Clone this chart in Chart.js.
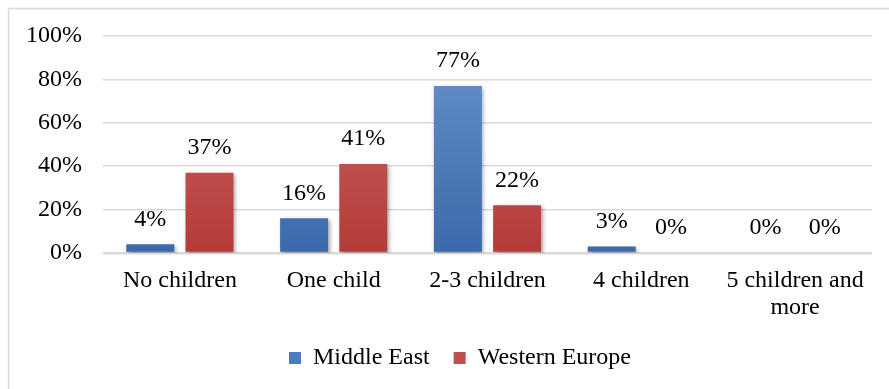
<!DOCTYPE html>
<html>
<head>
<meta charset="utf-8">
<script src="https://cdn.jsdelivr.net/npm/chart.js@4/dist/chart.umd.min.js"></script>
<style>
  html, body { margin: 0; padding: 0; background: #fff; }
  #wrap { width: 889px; height: 389px; position: relative; }
</style>
</head>
<body>
<div id="wrap"><canvas id="c" width="889" height="389"></canvas></div>
<script>
// Number of children: share of respondents by region
const categories = ['No children', 'One child', '2-3 children', '4 children', ['5 children and', 'more']];
const middleEast = [4, 16, 77, 3, 0];
const westernEurope = [37, 41, 22, 0, 0];
const yTicks = [0, 20, 40, 60, 80, 100];

const FONT = '"Liberation Serif", "Times New Roman", serif';
const FONT_SIZE = 24;

function vGradient(ctx, top, bottom) {
  const chart = ctx.chart;
  const area = chart.chartArea;
  if (!area) return bottom;
  const g = chart.ctx.createLinearGradient(0, area.top, 0, area.bottom);
  g.addColorStop(0, top);
  g.addColorStop(1, bottom);
  return g;
}

// Outer frame of the chart
const framePlugin = {
  id: 'frame',
  beforeDraw(chart) {
    const c = chart.ctx;
    c.save();
    c.fillStyle = '#fff';
    c.fillRect(0, 0, chart.width, chart.height);
    c.strokeStyle = '#d9d9d9';
    c.lineWidth = 1.5;
    c.strokeRect(8.5, 8.5, chart.width + 20, chart.height + 20);
    c.restore();
  }
};

// Nudge the legend a little to the right
const legendShift = {
  id: 'legendShift',
  afterLayout(chart) {
    if (chart.legend) {
      chart.legend.left += 24;
      chart.legend.right += 24;
    }
  }
};

// Soft shadow under the bars
const shadowPlugin = {
  id: 'barShadow',
  beforeDatasetsDraw(chart) {
    const c = chart.ctx;
    c.save();
    c.shadowColor = 'rgba(0,0,0,0.35)';
    c.shadowBlur = 4;
    c.shadowOffsetX = 1.5;
    c.shadowOffsetY = 2;
  },
  afterDatasetsDraw(chart) {
    chart.ctx.restore();
  }
};

// Percentage labels above each bar
const valueLabels = {
  id: 'valueLabels',
  afterDatasetsDraw(chart) {
    const c = chart.ctx;
    c.save();
    c.font = FONT_SIZE + 'px ' + FONT;
    c.fillStyle = '#000';
    c.textAlign = 'center';
    c.textBaseline = 'middle';
    chart.data.datasets.forEach((ds, di) => {
      const meta = chart.getDatasetMeta(di);
      meta.data.forEach((bar, i) => {
        c.fillText(ds.data[i] + '%', bar.x, bar.y - 25);
      });
    });
    c.restore();
  }
};

new Chart(document.getElementById('c'), {
  type: 'bar',
  data: {
    labels: categories,
    datasets: [
      {
        label: 'Middle East',
        data: middleEast,
        backgroundColor: ctx => vGradient(ctx, '#6893cd', '#3b6aab'),
        legendColor: '#4a7cc0',
        categoryPercentage: 0.77,
        barPercentage: 0.81
      },
      {
        label: 'Western Europe',
        data: westernEurope,
        backgroundColor: ctx => vGradient(ctx, '#cb6b69', '#b43b39'),
        legendColor: '#c0504d',
        categoryPercentage: 0.77,
        barPercentage: 0.81
      }
    ]
  },
  options: {
    responsive: false,
    animation: false,
    layout: { padding: { top: 36, right: 17, left: 0, bottom: 9 } },
    scales: {
      x: {
        grid: { display: false, drawTicks: false },
        border: { display: false },
        ticks: {
          color: '#000',
          font: { family: FONT, size: FONT_SIZE, lineHeight: 1.13 },
          padding: 14,
          maxRotation: 0,
          autoSkip: false
        },
        afterFit(scale) { scale.height = 69; }
      },
      y: {
        min: 0,
        max: 100,
        afterBuildTicks(scale) { scale.ticks = yTicks.map(v => ({ value: v })); },
        grid: {
          color: '#d9d9d9',
          lineWidth: ctx => (ctx.tick && ctx.tick.value === 0 ? 2.5 : 1.5),
          drawTicks: false
        },
        border: { display: false },
        ticks: {
          color: '#000',
          font: { family: FONT, size: FONT_SIZE },
          padding: 21,
          callback: v => v + '%'
        },
        afterFit(scale) { scale.width = 103; }
      }
    },
    plugins: {
      tooltip: { enabled: false },
      legend: {
        position: 'bottom',
        labels: {
          color: '#000',
          font: { family: FONT, size: FONT_SIZE },
          boxWidth: 12,
          boxHeight: 12,
          padding: 24,
          generateLabels(chart) {
            return chart.data.datasets.map((ds, i) => ({
              text: ds.label,
              fillStyle: ds.legendColor,
              strokeStyle: ds.legendColor,
              lineWidth: 0,
              hidden: false,
              datasetIndex: i,
              fontColor: '#000'
            }));
          }
        }
      }
    }
  },
  plugins: [framePlugin, legendShift, shadowPlugin, valueLabels]
});
</script>
</body>
</html>
